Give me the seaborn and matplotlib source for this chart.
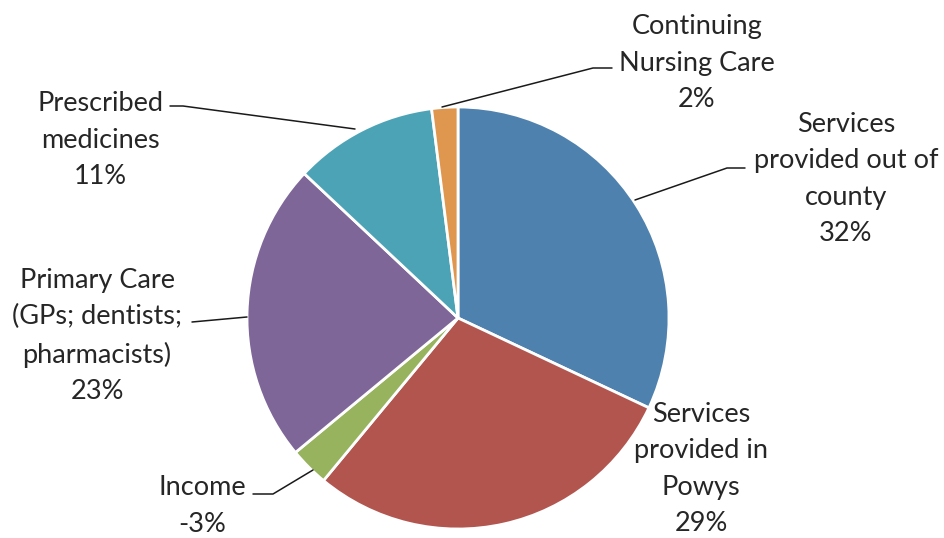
import matplotlib
matplotlib.use("Agg")
import matplotlib.pyplot as plt
import seaborn as sns

sns.set_style("white")
plt.rcParams['font.family'] = ['Lato', 'DejaVu Sans']

categories = ["Services\nprovided out of\ncounty", "Services\nprovided in\nPowys", "Income",
              "Primary Care\n(GPs; dentists;\npharmacists)", "Prescribed\nmedicines",
              "Continuing\nNursing Care"]
values = [32, 29, -3, 23, 11, 2]
colors = ["#4F81AE", "#B3554F", "#97B35E", "#7E6698", "#4DA3B6", "#DF964E"]

W, H = 945, 538
fig = plt.figure(figsize=(W / 100, H / 100), dpi=100)
ax = fig.add_axes([0, 0, 1, 1])

def Y(y):
    return H - y

cx, cy, r = 458, 318, 211
ax.pie([abs(v) for v in values], colors=colors, startangle=90, counterclock=False,
       center=(cx, Y(cy)), radius=r, frame=True,
       wedgeprops=dict(edgecolor="white", linewidth=2))
ax.set_xlim(0, W)
ax.set_ylim(0, H)
ax.axis("off")

# label layout: (text center x, text center y) in image px, leader path
layout = [
    (846, 179, [(635, 200), (727, 168), (745, 168)]),
    (701, 469, None),
    (202, 506, [(313, 470), (273, 494), (253, 494)]),
    (97, 336, [(247, 317), (192, 322)]),
    (100, 140, [(355, 129), (183, 106), (170, 106)]),
    (697, 63, [(442, 107), (593, 68), (612, 68)]),
]

for cat, val, (tx, ty, path) in zip(categories, values, layout):
    ax.text(tx, Y(ty), f"{cat}\n{val}%", ha="center", va="center", fontsize=19.5,
            color="#262626", linespacing=1.58)
    if path:
        ax.plot([p[0] for p in path], [Y(p[1]) for p in path], color="#1a1a1a", lw=1.1)

fig.savefig("out.png", dpi=100)
